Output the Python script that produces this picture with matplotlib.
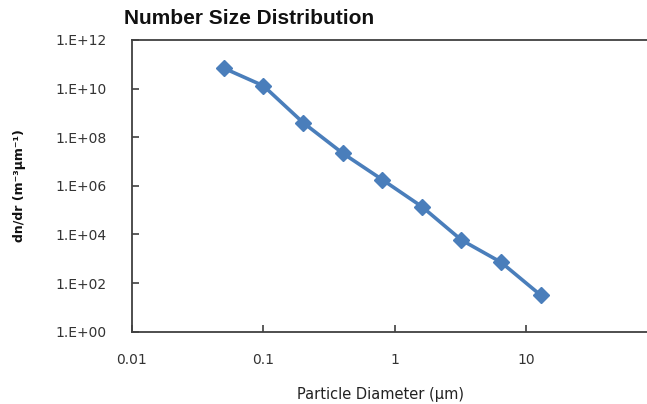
import matplotlib
matplotlib.use("Agg")
import matplotlib.pyplot as plt
from matplotlib.ticker import FixedLocator, FixedFormatter, NullLocator

plt.rcParams["font.family"] = ["DejaVu Sans"]

diameter = [0.05, 0.1, 0.2, 0.4, 0.8, 1.6, 3.2, 6.4, 12.8]
dndr = [6.9e10, 1.3e10, 4.0e8, 2.2e7, 1.8e6, 1.4e5, 5.9e3, 7.2e2, 3.2e1]

y_ticks = [1e0, 1e2, 1e4, 1e6, 1e8, 1e10, 1e12]
y_labels = ["1.E+00", "1.E+02", "1.E+04", "1.E+06", "1.E+08", "1.E+10", "1.E+12"]
x_ticks = [0.01, 0.1, 1, 10]
x_labels = ["0.01", "0.1", "1", "10"]

fig = plt.figure(figsize=(6.47, 4.04), dpi=100)
ax = fig.add_axes([0.204, 0.179, 0.813, 0.722])

ax.plot(diameter, dndr, color="#4A7EBB", linewidth=2.6, marker="D",
        markersize=8, markerfacecolor="#4A7EBB", markeredgecolor="#4A7EBB",
        solid_joinstyle="round", solid_capstyle="round")

ax.set_xscale("log")
ax.set_yscale("log")
ax.set_xlim(0.01, 100)
ax.set_ylim(1, 1e12)

ax.yaxis.set_major_locator(FixedLocator(y_ticks))
ax.yaxis.set_major_formatter(FixedFormatter(y_labels))
ax.yaxis.set_minor_locator(NullLocator())
ax.xaxis.set_major_locator(FixedLocator(x_ticks))
ax.xaxis.set_major_formatter(FixedFormatter(x_labels))
ax.xaxis.set_minor_locator(NullLocator())

for s in ax.spines.values():
    s.set_color("#404040")
    s.set_linewidth(1.3)

ax.tick_params(axis="both", direction="in", length=5, width=1.2, color="#404040",
               labelsize=10, labelcolor="#333333")
ax.tick_params(axis="y", pad=18)
ax.tick_params(axis="x", pad=15)

fig.text(249 / 647, 1 - 18 / 404, "Number Size Distribution", ha="center", va="center",
         fontsize=15, fontweight="bold", family="Liberation Sans", color="#111111")
fig.text(381 / 647, 1 - 394 / 404, "Particle Diameter (µm)", ha="center", va="center",
         fontsize=10.5, color="#222222")
fig.text(20 / 647, 1 - 186 / 404, "dn/dr (m⁻³µm⁻¹)", ha="center", va="center",
         rotation=90, fontsize=9, fontweight="bold", color="#111111")

fig.savefig("out.png", dpi=100)
